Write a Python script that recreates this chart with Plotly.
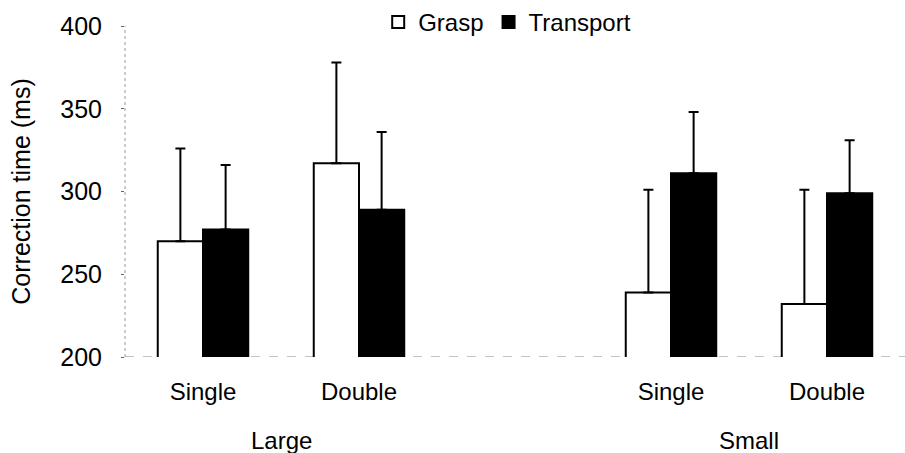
import plotly.graph_objects as go

# Correction times (ms) for the two object sizes and two perturbation types
conditions = ["Single", "Double", "Single", "Double"]
x_pos = [0, 1, 3, 4]          # slot 2 is left empty to separate the size groups
groups = ["Large", "Small"]
group_pos = [0.5, 3.5]

grasp = [270, 317, 239, 232]
grasp_sd = [56, 61, 62, 69]
transport = [277, 289, 311, 299]
transport_sd = [39, 47, 37, 32]

y_ticks = [200, 250, 300, 350, 400]

FONT = "Liberation Sans, Arial, Helvetica, sans-serif"

fig = go.Figure()
fig.add_trace(go.Bar(
    name="Grasp", x=x_pos, y=grasp,
    marker=dict(color="white", line=dict(color="black", width=2)),
    error_y=dict(type="data", array=grasp_sd, arrayminus=[0] * len(grasp_sd),
                 symmetric=False, color="black", thickness=2, width=5),
))
fig.add_trace(go.Bar(
    name="Transport", x=x_pos, y=transport,
    marker=dict(color="black", line=dict(color="black", width=2)),
    error_y=dict(type="data", array=transport_sd, arrayminus=[0] * len(transport_sd),
                 symmetric=False, color="black", thickness=2, width=5),
))

# group labels beneath the condition ticks
for g, gx in zip(groups, group_pos):
    fig.add_annotation(x=gx, y=0, xref="x", yref="paper", text=g, showarrow=False,
                       yanchor="top", yshift=-68, font=dict(size=24, color="black", family=FONT))

# faint dotted axis line and dashed baseline
fig.add_shape(type="line", xref="paper", yref="y", x0=0, x1=0, y0=200, y1=400,
              line=dict(color="#999999", width=1, dash="dot"), layer="below")
fig.add_shape(type="line", xref="paper", yref="y", x0=0, x1=1, y0=200, y1=200,
              line=dict(color="#888888", width=1, dash="dash"), layer="below")

fig.update_layout(
    width=905, height=453,
    margin=dict(l=125, r=0, t=25, b=96),
    paper_bgcolor="white", plot_bgcolor="white",
    barmode="group", bargap=0.42, bargroupgap=0,
    font=dict(family=FONT, size=24, color="black"),
    showlegend=True,
    legend=dict(orientation="h", x=0.49, xanchor="center", y=1.08, yanchor="top",
                font=dict(size=24), itemwidth=30, tracegroupgap=0,
                bgcolor="rgba(0,0,0,0)"),
    xaxis=dict(range=[-0.5, 4.5], tickmode="array", tickvals=x_pos, ticktext=conditions,
               showgrid=False, zeroline=False, showline=False, ticks="",
               tickfont=dict(size=24), ticklabelstandoff=18),
    yaxis=dict(range=[200, 400], tickmode="array", tickvals=y_ticks,
               showgrid=False, zeroline=False, showline=False,
               ticks="outside", ticklen=3, tickcolor="#666666",
               tickfont=dict(size=25), ticklabelstandoff=14,
               title=dict(text="Correction time (ms)", font=dict(size=25), standoff=22)),
)

fig.write_html("out.html")
